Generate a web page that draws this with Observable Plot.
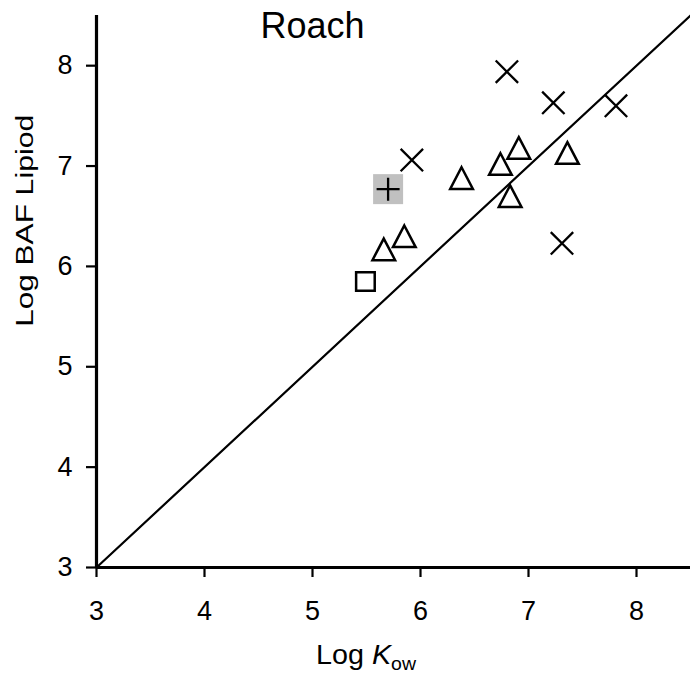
<!DOCTYPE html>
<html>
<head>
<meta charset="utf-8">
<script src="https://cdn.jsdelivr.net/npm/d3@7"></script>
<script src="https://cdn.jsdelivr.net/npm/@observablehq/plot@0.6"></script>
<style>
  body { margin: 0; background: #fff; }
  #chart svg { font-family: "Liberation Sans", Arial, Helvetica, sans-serif; display: block; }
</style>
</head>
<body>
<div id="chart"></div>
<script>
// Axis ticks (log units)
const xTicks = [3, 4, 5, 6, 7, 8];
const yTicks = [3, 4, 5, 6, 7, 8];
const axisDomain = [3, 8.5];

// Log Kow / Log BAF (lipid) pairs by marker group
const crossKow = [5.92, 6.80, 7.23, 7.81, 7.31];
const crossBaf = [7.06, 7.94, 7.63, 7.60, 6.23];

const triangleKow = [5.66, 5.85, 6.38, 6.74, 6.83, 6.91, 7.36];
const triangleBaf = [6.17, 6.30, 6.88, 7.02, 6.70, 7.18, 7.13];

const squareKow = [5.49];
const squareBaf = [5.85];

const plusKow = [5.70];
const plusBaf = [6.77];

// 1:1 line
const oneToOne = [3, 8.5];

const pairs = (xs, ys) => xs.map((x, i) => ({kow: x, baf: ys[i]}));

// Custom outline symbols, sized from the dot radius
const symbolOf = (draw) => ({draw(ctx, size) { draw(ctx, Math.sqrt(size / Math.PI)); }});
const triangle = symbolOf((c, r) => {
  c.moveTo(0, -r);
  c.lineTo(r * 1.05, r);
  c.lineTo(-r * 1.05, r);
  c.closePath();
});
const square = symbolOf((c, r) => { c.rect(-r, -r, 2 * r, 2 * r); });
const cross = symbolOf((c, r) => {
  c.moveTo(-r, -r); c.lineTo(r, r);
  c.moveTo(r, -r); c.lineTo(-r, r);
});
const plus = symbolOf((c, r) => {
  c.moveTo(-r, 0); c.lineTo(r, 0);
  c.moveTo(0, -r); c.lineTo(0, r);
});

const tickFont = 27;

const chart = Plot.plot({
  width: 690,
  height: 675,
  marginLeft: 96,
  marginRight: 0,
  marginTop: 15,
  marginBottom: 108,
  style: {fontSize: `${tickFont}px`, fontFamily: "Liberation Sans, Arial, sans-serif", color: "#000", background: "#fff"},
  x: {domain: axisDomain},
  y: {domain: axisDomain},
  marks: [
    Plot.axisX(xTicks, {tickSize: 10, tickPadding: 23, tickFormat: (d) => String(d), label: null, fontSize: tickFont, strokeWidth: 2.2}),
    Plot.axisY(yTicks, {tickSize: 10, tickPadding: 14, tickFormat: (d) => String(d), label: null, fontSize: tickFont, strokeWidth: 2.2}),
    Plot.ruleX([axisDomain[0]], {stroke: "#000", strokeWidth: 3.2}),
    Plot.ruleY([axisDomain[0]], {stroke: "#000", strokeWidth: 3.2}),
    Plot.line(oneToOne.map((v) => ({kow: v, baf: v})), {x: "kow", y: "baf", stroke: "#000", strokeWidth: 2.2}),
    // shaded background behind the + point
    Plot.dot(pairs(plusKow, plusBaf), {x: "kow", y: "baf", symbol: square, r: 15, fill: "#c0c0c0", stroke: "none"}),
    Plot.dot(pairs(plusKow, plusBaf), {x: "kow", y: "baf", symbol: plus, r: 11.5, stroke: "#000", strokeWidth: 2.3, fill: "none"}),
    Plot.dot(pairs(squareKow, squareBaf), {x: "kow", y: "baf", symbol: square, r: 9.3, stroke: "#000", strokeWidth: 2.5, fill: "none"}),
    Plot.dot(pairs(triangleKow, triangleBaf), {x: "kow", y: "baf", symbol: triangle, r: 10.8, stroke: "#000", strokeWidth: 2.5, fill: "none", strokeLinejoin: "miter"}),
    Plot.dot(pairs(crossKow, crossBaf), {x: "kow", y: "baf", symbol: cross, r: 11.2, stroke: "#000", strokeWidth: 2.3, fill: "none"}),
    Plot.text(["Roach"], {frameAnchor: "top-left", dx: 216, dy: -3, fontSize: 36, textAnchor: "middle", fill: "#000"})
  ]
});

document.getElementById("chart").appendChild(chart);

// Axis titles with italic K and subscript
const svg = d3.select(chart);
const xs = chart.scale("x");
const ys = chart.scale("y");

const xLabel = svg.append("text")
  .attr("x", xs.apply(5.5))
  .attr("y", 664)
  .attr("text-anchor", "middle")
  .attr("font-size", 28)
  .attr("fill", "#000")
  .attr("textLength", 100)
  .attr("lengthAdjust", "spacingAndGlyphs");
xLabel.append("tspan").text("Log ");
xLabel.append("tspan").attr("font-style", "italic").text("K");
xLabel.append("tspan").attr("font-size", 19).attr("dy", 6).text("ow");

const yLabel = svg.append("text")
  .attr("transform", `translate(33,${(ys.apply(7.5) + ys.apply(5.4)) / 2}) rotate(-90)`)
  .attr("text-anchor", "middle")
  .attr("font-size", 24)
  .attr("fill", "#000")
  .attr("textLength", 212)
  .attr("lengthAdjust", "spacingAndGlyphs");
yLabel.append("tspan").text("Log BAF ");
yLabel.append("tspan").attr("font-size", 23).text("Lipiod");
</script>
</body>
</html>
